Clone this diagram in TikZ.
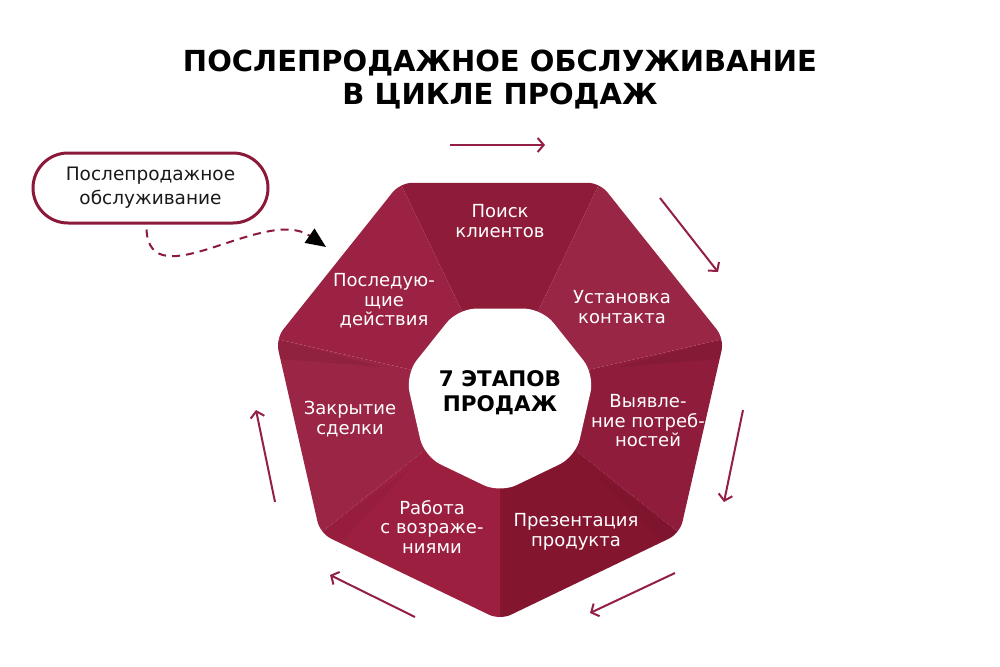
\documentclass[tikz,border=0pt]{standalone}
\usepackage{fontspec}
\setmainfont{DejaVu Sans}
\usetikzlibrary{arrows.meta,calc}
\definecolor{crim}{HTML}{8B1A3A}
\definecolor{arr}{HTML}{931F47}
\definecolor{sA}{HTML}{8E1B38}
\definecolor{sB}{HTML}{9A2646}
\definecolor{sC}{HTML}{8F1C3B}
\definecolor{sD}{HTML}{84152F}
\definecolor{sE}{HTML}{9D1F40}
\definecolor{sF}{HTML}{9B2544}
\definecolor{sG}{HTML}{9C2243}
\definecolor{ink}{HTML}{1A1A1A}
\tikzset{
  seglabel/.style={text=white, align=center, inner sep=0pt, font=\fontsize{18}{19.5}\selectfont},
  cyclearrow/.style={draw=arr, line width=2pt, -{Straight Barb[length=6pt,width=14pt]}},
  pill/.style={draw=crim, line width=3pt, rounded corners=35pt, minimum width=235pt, minimum height=70pt, inner sep=0pt, align=center, text=ink, font=\fontsize{18.5}{24}\selectfont},
  dasharrow/.style={draw=crim, line width=2pt, dash pattern=on 8pt off 6pt, -{Triangle[length=20pt,width=17pt,color=black]}},
  titletext/.style={align=center, font=\fontsize{29}{33}\selectfont\bfseries, text=black, inner sep=0pt},
  centertext/.style={align=center, font=\fontsize{21.5}{25}\selectfont\bfseries, text=black, inner sep=0pt}
}
\begin{document}
\begin{tikzpicture}[x=1pt,y=-1pt]
\useasboundingbox[fill=white] (0,0) rectangle (1000,666);
\coordinate (c) at (500,390);
\coordinate (ci) at (500,396);
\foreach \i/\a in {0/90,1/141.43,2/192.86,3/244.29,4/295.71,5/347.14,6/38.57}{
  \coordinate (v\i) at ($(c)+(\a:230)$);
  \coordinate (w\i) at ($(ci)+(\a:97)$);
  \coordinate (x\i) at ($(c)+(\a:320)$);
}
\begin{scope}
\clip[rounded corners=12pt] (v0)--(v1)--(v2)--(v3)--(v4)--(v5)--(v6)--cycle;
\fill[sA] (c)--(x3)--(x4)--cycle;
\fill[sB] (c)--(x4)--(x5)--cycle;
\fill[sC] (c)--(x5)--(x6)--cycle;
\fill[sD] (c)--(x6)--(x0)--cycle;
\fill[sE] (c)--(x0)--(x1)--cycle;
\fill[sF] (c)--(x1)--(x2)--cycle;
\fill[sG] (c)--(x2)--(x3)--cycle;
\fill[black,opacity=0.07] (v5)--($(c)+(352:225)$)--($(c)+(349:120)$)--cycle;
\fill[black,opacity=0.07] (v2)--($(c)+(188:225)$)--($(c)+(191:120)$)--cycle;
\fill[black,opacity=0.04] (v1)--($(c)+(136:225)$)--($(c)+(139:120)$)--cycle;
\fill[black,opacity=0.04] (v6)--($(c)+(43:225)$)--($(c)+(41:120)$)--cycle;
\end{scope}
\fill[white, rounded corners=18pt] (w0)--(w1)--(w2)--(w3)--(w4)--(w5)--(w6)--cycle;

% title
\node[titletext] (title) at (500,80) {ПОСЛЕПРОДАЖНОЕ ОБСЛУЖИВАНИЕ\\В ЦИКЛЕ ПРОДАЖ};

% center
\node[centertext] (center) at (500,393) {7 ЭТАПОВ\\ПРОДАЖ};

% segment labels
\node[seglabel] (s1) at (500,221) {Поиск\\клиентов};
\node[seglabel] (s2) at (622,307) {Установка\\контакта};
\node[seglabel] (s3) at (648,421) {Выявле-\\ние потреб-\\ностей};
\node[seglabel] (s4) at (576,532) {Презентация\\продукта};
\node[seglabel] (s5) at (432,527) {Работа\\с возраже-\\ниями};
\node[seglabel] (s6) at (350,419) {Закрытие\\сделки};
\node[seglabel] (s7) at (384,301) {Последую-\\щие\\действия};

% pill
\node[pill] (box) at (150.5,188) {Послепродажное\\обслуживание};

% cycle arrows
\coordinate (a1s) at (450,145); \coordinate (a1e) at (545,145);
\coordinate (a2s) at (660,198); \coordinate (a2e) at (718,272);
\coordinate (a3s) at (743,410); \coordinate (a3e) at (724,502);
\coordinate (a4s) at (675,573); \coordinate (a4e) at (590,613);
\coordinate (a5s) at (415,617); \coordinate (a5e) at (330,575);
\coordinate (a6s) at (275,502); \coordinate (a6e) at (256,410);
\draw[cyclearrow] (a1s) -- (a1e);
\draw[cyclearrow] (a2s) -- (a2e);
\draw[cyclearrow] (a3s) -- (a3e);
\draw[cyclearrow] (a4s) -- (a4e);
\draw[cyclearrow] (a5s) -- (a5e);
\draw[cyclearrow] (a6s) -- (a6e);

% dashed arrow
\coordinate (dend) at (326,247);
\draw[dasharrow] ([xshift=-4pt,yshift=-5pt]box.south) .. controls (150,300) and (265,205) .. (dend);
\end{tikzpicture}
\end{document}
